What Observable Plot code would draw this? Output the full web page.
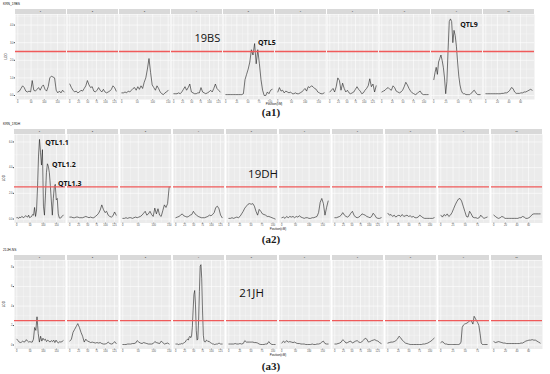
<!DOCTYPE html>
<html><head><meta charset="utf-8">
<script src="https://cdn.jsdelivr.net/npm/d3@7"></script>
<script src="https://cdn.jsdelivr.net/npm/@observablehq/plot@0.6"></script>
<style>
body{margin:0;background:#fff;}
#root{position:relative;width:550px;height:374px;overflow:hidden;background:#fff;}
.panel{position:absolute;left:0;}
.tag{position:absolute;font-family:"Liberation Serif","Times New Roman",serif;font-weight:bold;font-size:11px;color:#1a1a1a;transform:translate(-50%,-50%);white-space:nowrap;line-height:1;}
</style></head><body><div id="root"></div>
<script>
// ---- map ----
const chromosomes = [1,2,3,4,5,6,7,8,9,10];
const chrLength = [175,130,150,130,105,170,135,110,95,80];
const chrTicks = [[0,50,100,150],[0,25,50,75,100,125],[0,50,100,150],[0,25,50,75,100,125],[0,25,50,75,100],[0,50,100,150],[0,25,50,75,100,125],[0,25,50,75,100],[0,25,50,75],[0,20,40,60]];
const threshold = 2.5;

// ---- KRN_19BS : LOD read at evenly spaced positions along each chromosome ----
const BS_chr1 = [0.2,0.25,0.4,0.55,0.45,0.25,0.2,0.25,0.2,0.85,0.3,0.25,0.35,0.45,0.3,0.5,0.6,0.35,0.25,0.5,1.0,1.1,1.05,1.0,0.3,0.15,0.25,0.15,0.3,0.2];
const BS_chr2 = [0.65,0.45,0.3,0.2,0.25,0.15,0.2,0.3,0.25,0.4,0.55,0.85,0.6,0.45,0.5,0.25,0.2,0.3,0.45,0.3,0.2,0.35,0.2,0.15,0.2,0.25,0.35,0.55,0.45,0.25];
const BS_chr3 = [0.15,0.15,0.2,0.15,0.25,0.2,0.3,0.4,0.45,0.3,0.5,0.35,0.55,0.4,0.75,1.0,1.5,2.1,1.3,0.6,0.45,0.3,0.55,0.4,0.2,0.1,0.05,0.15,0.2,0.3];
const BS_chr4 = [0.1,0.1,0.1,0.15,0.1,0.2,0.35,0.5,0.3,0.45,0.65,0.2,0.15,0.1,0.1,0.15,0.15,0.45,0.2,0.15,0.1,0.15,0.2,0.3,0.2,0.4,0.65,0.4,0.3,0.2];
const BS_chr5 = [0.05,0.05,0.05,0.05,0.05,0.05,0.05,0.05,0.05,0.05,0.05,0.1,0.9,1.2,1.5,1.9,2.6,2.3,2.95,1.8,2.6,1.8,0.9,0.3,0.0,0.0,0.2,0.1,0.3,0.35];
const BS_chr6 = [0.2,0.45,0.25,0.3,0.15,0.25,0.2,0.15,0.2,0.1,0.1,0.15,0.1,0.1,0.15,0.2,0.3,0.4,0.25,0.5,0.45,0.55,0.5,0.4,0.35,0.2,0.15,0.1,0.1,0.15];
const BS_chr7 = [0.2,0.3,0.4,0.2,0.5,1.0,0.85,0.3,0.7,0.4,0.2,0.3,0.15,0.1,0.15,0.2,0.35,0.5,0.35,0.25,0.1,0.15,0.3,0.4,0.55,0.95,0.5,0.65,0.2,0.55];
const BS_chr8 = [0.2,0.25,0.3,0.4,0.45,0.35,0.3,0.55,0.45,0.25,0.2,0.15,0.2,0.3,0.5,0.75,0.6,0.4,0.25,0.15,0.1,0.05,0.1,0.2,0.25,0.1,0.05,0.05,0.05,0.05];
const BS_chr9 = [0.9,1.3,1.6,1.2,1.9,2.1,2.3,2.0,1.6,1.0,0.1,0.8,2.6,4.2,4.35,4.2,3.0,3.7,3.4,2.8,1.9,1.1,0.6,0.3,0.15,0.1,0.1,0.05,0.05,0.05,0.05,0.1,0.15,0.25,0.3,0.2,0.1,0.05,0.05,0.05];
const BS_chr10 = [0.1,0.1,0.1,0.1,0.1,0.1,0.1,0.1,0.1,0.1,0.12,0.12,0.15,0.15,0.2,0.3,0.45,0.4,0.2,0.12,0.12,0.12,0.15,0.15,0.2,0.2,0.25,0.3,0.35,0.3];

// ---- KRN_19DH ----
const DH_chr1 = [0.1,0.1,0.05,0.15,0.1,0.2,0.15,0.1,0.2,0.25,0.2,0.15,0.3,0.1,0.15,0.2,0.35,0.3,0.9,0.2,0.7,2.5,4.9,6.2,5.2,4.2,5.4,1.0,0.3,1.8,3.6,4.3,4.1,3.6,2.6,1.4,0.3,1.6,2.5,2.7,1.5,1.6,0.4,0.1,0.05,0.15,0.2,0.3];
const DH_chr2 = [0.15,0.15,0.1,0.1,0.15,0.15,0.1,0.1,0.1,0.15,0.2,0.15,0.1,0.15,0.1,0.1,0.2,0.3,0.45,0.7,1.1,0.75,0.5,0.6,0.3,0.2,0.15,0.25,0.55,0.3];
const DH_chr3 = [0.05,0.05,0.1,0.05,0.1,0.1,0.05,0.1,0.15,0.1,0.15,0.2,0.3,0.45,0.6,0.3,0.4,0.6,0.35,0.2,0.85,0.4,0.8,0.3,0.2,0.65,1.1,0.9,1.2,2.5];
const DH_chr4 = [0.1,0.15,0.2,0.3,0.4,0.25,0.2,0.15,0.2,0.3,0.35,0.6,0.4,0.3,0.2,0.15,0.1,0.1,0.1,0.15,0.2,0.3,0.25,0.35,0.5,0.9,1.0,0.8,0.3,0.1];
const DH_chr5 = [0.05,0.05,0.1,0.05,0.1,0.15,0.1,0.2,0.4,0.6,0.85,1.0,1.15,1.2,1.15,1.2,1.0,0.6,0.3,0.75,0.6,0.4,0.35,0.3,0.2,0.2,0.15,0.1,0.05,0.0];
const DH_chr6 = [0.1,0.15,0.05,0.2,0.1,0.2,0.15,0.2,0.1,0.2,0.15,0.25,0.15,0.1,0.05,0.1,0.1,0.05,0.05,0.1,0.1,0.15,0.2,0.5,1.3,1.6,1.2,0.3,0.9,1.4];
const DH_chr7 = [0.1,0.1,0.15,0.2,0.3,0.5,0.3,0.2,0.15,0.25,0.45,0.6,0.3,0.15,0.1,0.15,0.25,0.4,0.35,0.3,0.2,0.15,0.1,0.2,0.45,0.3,0.1,0.05,0.05,0.1];
const DH_chr8 = [0.45,0.3,0.35,0.2,0.3,0.15,0.25,0.3,0.2,0.35,0.2,0.25,0.3,0.2,0.25,0.15,0.2,0.1,0.1,0.15,0.3,0.2,0.1,0.05,0.05,0.05,0.05,0.05,0.05,0.1];
const DH_chr9 = [0.3,0.15,0.35,0.25,0.4,0.2,0.3,0.5,0.8,1.1,1.35,1.55,1.6,1.4,1.0,0.6,0.2,0.15,0.6,0.4,0.15,0.1,0.1,0.05,0.1,0.3,0.15,0.05,0.1,0.15];
const DH_chr10 = [0.3,0.2,0.1,0.05,0.1,0.2,0.15,0.05,0.05,0.05,0.05,0.05,0.05,0.05,0.05,0.05,0.1,0.1,0.2,0.15,0.05,0.05,0.1,0.2,0.35,0.4,0.4,0.4,0.4,0.4];

// ---- 21JH-NS ----
const JH_chr1 = [0.6,0.45,0.3,0.25,0.3,0.4,0.3,0.35,0.55,0.4,0.3,0.35,0.3,0.3,0.6,1.8,1.5,2.9,1.2,0.3,0.9,0.4,0.7,0.5,0.6,0.35,0.5,0.4,0.3,0.45,0.35,0.5,0.25,0.5,0.3,0.2,0.35,0.3,0.35,0.45];
const JH_chr2 = [0.4,0.6,1.3,1.6,1.9,2.2,1.8,1.3,0.9,0.3,0.6,0.4,0.35,0.25,0.3,0.25,0.2,0.25,0.2,0.25,0.15,0.1,0.1,0.15,0.3,0.15,0.1,0.15,0.35,0.15];
const JH_chr3 = [0.05,0.05,0.05,0.1,0.1,0.1,0.15,0.15,0.2,0.45,0.3,0.2,0.15,0.25,0.2,0.15,0.1,0.1,0.1,0.15,0.35,0.25,0.2,0.15,0.4,0.25,0.1,0.15,0.2,0.1];
const JH_chr4 = [0.1,0.1,0.1,0.05,0.05,0.1,0.1,0.15,0.1,0.15,0.2,0.25,0.3,0.45,0.55,0.6,0.5,0.8,0.9,0.75,0.9,1.8,3.5,5.2,5.6,4.2,1.5,0.5,0.6,2.5,5.5,8.1,8.25,6.8,3.5,1.0,0.4,0.3,0.35,0.5,0.45,0.35,0.4,0.3,0.25,0.2,0.15,0.1,0.1,0.05,0.05,0.1,0.1,0.1,0.15,0.2,0.15,0.1,0.1,0.1];
const JH_chr5 = [0.1,0.1,0.1,0.1,0.15,0.1,0.1,0.15,0.1,0.15,0.45,0.3,0.3,0.3,0.3,0.3,0.25,0.25,0.2,0.1,0.05,0.05,0.05,0.1,0.1,0.35,0.15,0.05,0.05,0.05];
const JH_chr6 = [0.2,0.4,0.25,0.45,0.3,0.35,0.3,0.25,0.3,0.2,0.15,0.15,0.1,0.1,0.1,0.05,0.05,0.05,0.05,0.1,0.05,0.05,0.1,0.1,0.15,0.3,0.4,0.15,0.1,0.1];
const JH_chr7 = [0.1,0.1,0.15,0.2,0.3,0.55,0.4,0.2,0.25,0.35,0.4,0.2,0.3,0.4,0.45,0.3,0.25,0.35,0.5,0.7,0.6,0.3,0.35,0.45,0.5,0.55,0.45,0.4,0.25,0.15];
const JH_chr8 = [0.2,0.25,0.3,0.3,0.35,0.45,0.6,0.9,0.75,0.5,0.35,0.2,0.15,0.1,0.05,0.05,0.05,0.05,0.05,0.05,0.05,0.05,0.1,0.1,0.15,0.2,0.3,0.4,0.55,0.7];
const JH_chr9 = [0.25,0.35,0.3,0.15,0.1,0.1,0.05,0.05,0.05,0.05,0.05,0.05,0.05,0.05,0.05,0.05,0.1,0.3,1.8,2.05,2.15,2.2,2.25,2.35,2.45,2.5,2.4,2.15,2.95,2.75,2.5,2.3,2.0,1.2,0.2,0.05,0.05,0.05,0.05,0.05];
const JH_chr10 = [0.35,0.25,0.3,0.35,0.3,0.25,0.2,0.2,0.15,0.15,0.15,0.15,0.15,0.15,0.15,0.15,0.15,0.2,0.2,0.3,0.4,0.45,0.5,0.5,0.55,0.5,0.5,0.4,0.3,0.2];

// ---- axis ticks ----
const yTicksBS = [0,1,2,3,4];
const yTicksDH = [0,2,4,6];
const yTicksJH = [0,2,4,6,8];

// ---- annotations (chromosome, cM, LOD) ----
const bigLabelsBS = [{chr:4, cM:58, lod:3.24, text:"19BS"}];
const qtlLabelsBS = [{chr:5, cM:73, lod:3.0, text:"QTL5"}, {chr:9, cM:54, lod:4.03, text:"QTL9"}];
const bigLabelsDH = [{chr:5, cM:43.6, lod:3.5, text:"19DH"}];
const qtlLabelsDH = [{chr:1, cM:107, lod:5.91, text:"QTL1.1"}, {chr:1, cM:133, lod:4.24, text:"QTL1.2"}, {chr:1, cM:155, lod:2.76, text:"QTL1.3"}];
const bigLabelsJH = [{chr:5, cM:23.4, lod:5.34, text:"21JH"}];
const qtlLabelsJH = [];

function curveRows(curves){
  const rows = [];
  curves.forEach((vals,k)=>{
    const L = chrLength[k], n = vals.length;
    vals.forEach((v,i)=>{ const cM = i/(n-1)*L; rows.push({chr:chromosomes[k], cM, frac:cM/L, lod:v}); });
  });
  return rows;
}
function tickRows(){
  const rows = [];
  chrTicks.forEach((ts,k)=>ts.forEach(t=>rows.push({chr:chromosomes[k], frac:t/chrLength[k], label:String(t)})));
  return rows;
}
function minorRows(){
  const rows = [];
  chrTicks.forEach((ts,k)=>{
    const L = chrLength[k];
    for(let i=0;i<ts.length-1;i++) rows.push({chr:chromosomes[k], frac:(ts[i]+ts[i+1])/2/L});
    const step = ts[1]-ts[0], extra = ts[ts.length-1]+step/2;
    if(extra <= L*1.05) rows.push({chr:chromosomes[k], frac:extra/L});
  });
  return rows;
}
function yMinor(ticks, domain){
  const out = [], s = ticks[1]-ticks[0];
  for(let v = ticks[0]-s/2; v <= domain[1]; v += s) if(v >= domain[0] && Math.abs(v - threshold) > 1e-9) out.push(v);
  return out;
}
function annoRows(a){ return a.map(d=>({...d, frac:d.cM/chrLength[d.chr-1]})); }

const root = document.getElementById("root");

function panel(cfg){
  const H = cfg.height, mT = cfg.marginTop, mB = cfg.marginBottom, mL = cfg.marginLeft, mR = cfg.marginRight;
  const panelH = H - mT - mB;
  const ticks = tickRows();
  const plot = Plot.plot({
    width: 550, height: H, marginTop: mT, marginBottom: mB, marginLeft: mL, marginRight: mR,
    style: {fontSize: "2.6px", fontFamily: "'Liberation Sans', Arial, sans-serif", color: "#4D4D4D", background: "transparent", overflow: "visible"},
    x: {domain: [-0.05, 1.05], axis: null},
    y: {domain: cfg.yDomain, ticks: cfg.yTicks, tickSize: 1.2, tickPadding: 0.8, label: null},
    fx: {domain: chromosomes, paddingInner: cfg.pad, paddingOuter: 0, padding: cfg.pad, axis: null},
    marks: [
      Plot.frame({fill: "#EBEBEB", stroke: null}),
      Plot.ruleY(yMinor(cfg.yTicks, cfg.yDomain), {stroke: "white", strokeWidth: 0.3}),
      Plot.ruleY(cfg.yTicks, {stroke: "white", strokeWidth: 0.6}),
      Plot.ruleX(minorRows(), {fx: "chr", x: "frac", stroke: "white", strokeWidth: 0.3}),
      Plot.ruleX(ticks, {fx: "chr", x: "frac", stroke: "white", strokeWidth: 0.6}),
      Plot.ruleX(ticks, {fx: "chr", x: "frac", stroke: "#333", strokeWidth: 0.4, insetTop: panelH, insetBottom: -1.1}),
      Plot.text(ticks, {fx: "chr", x: "frac", text: "label", frameAnchor: "bottom", lineAnchor: "top", dy: 1.3, fill: "#4D4D4D"}),
      Plot.line(curveRows(cfg.curves), {fx: "chr", x: "frac", y: "lod", stroke: "#1c1c1c", strokeWidth: 0.6}),
      Plot.ruleY([threshold], {stroke: "#F05A5A", strokeWidth: 1.3}),
      Plot.text(annoRows(cfg.big), {fx: "chr", x: "frac", y: "lod", text: "text", textAnchor: "start", fontSize: cfg.bigSize, fontFamily: "'Open Sans', 'Liberation Sans', sans-serif", fill: "#111"}),
      Plot.text(annoRows(cfg.qtl), {fx: "chr", x: "frac", y: "lod", text: "text", textAnchor: "start", fontSize: 7, fontWeight: "bold", fontFamily: "'Open Sans', 'Liberation Sans', sans-serif", fill: "#111"})
    ]
  });
  const wrap = document.createElement("div");
  wrap.className = "panel";
  wrap.style.top = cfg.top + "px";
  wrap.appendChild(plot);
  root.appendChild(wrap);

  // facet strips from the library's fx scale
  const s = plot.scale("fx");
  const n = chromosomes.length;
  let step = (550 - mL - mR) / (n - cfg.pad), bw = step * (1 - cfg.pad);
  let pos = c => mL + chromosomes.indexOf(c) * step;
  if (s && typeof s.apply === "function") { pos = c => s.apply(c); if (s.bandwidth) bw = s.bandwidth; }
  const svg = d3.select(plot.tagName.toLowerCase() === "svg" ? plot : plot.querySelector("svg"));
  const g = svg.append("g").attr("text-anchor", "middle");
  chromosomes.forEach(c=>{
    const x = pos(c);
    g.append("rect").attr("x", x).attr("y", mT - 5).attr("width", bw).attr("height", 5).attr("fill", "#D9D9D9");
    g.append("text").attr("x", x + bw/2).attr("y", mT - 2.5).attr("text-anchor","middle").attr("dominant-baseline","central")
      .attr("font-size", 2.4).attr("fill", "#1A1A1A").text(String(c));
  });
  svg.append("text").attr("x", 3).attr("y", 4).attr("text-anchor", "start").attr("dominant-baseline","central")
    .attr("font-size", 3.3).attr("fill","#111").text(cfg.title);
  svg.append("text").attr("transform", `translate(${cfg.lodX},${mT + panelH/2}) rotate(-90)`).attr("text-anchor","middle")
    .attr("dominant-baseline","central").attr("font-size", 3).attr("fill","#111").text("LOD");
  svg.append("text").attr("x", (mL + 550 - mR)/2).attr("y", H - mB + cfg.posDy).attr("text-anchor","middle")
    .attr("dominant-baseline","central").attr("font-size", 3).attr("fill","#111").text("Position(cM)");

  const tag = document.createElement("div");
  tag.className = "tag"; tag.style.left = "271px"; tag.style.top = cfg.tagY + "px"; tag.textContent = cfg.tag;
  root.appendChild(tag);
}

panel({top: 0, height: 110, marginTop: 14, marginBottom: 11, marginLeft: 12.3, marginRight: 14.2, pad: 0.0286,
  yDomain: [-0.227, 4.6], yTicks: yTicksBS, curves: [BS_chr1,BS_chr2,BS_chr3,BS_chr4,BS_chr5,BS_chr6,BS_chr7,BS_chr8,BS_chr9,BS_chr10],
  big: bigLabelsBS, qtl: qtlLabelsBS, bigSize: 11, title: "KRN_19BS", lodX: 5.8, posDy: 5.2, tag: "(a1)", tagY: 112});
panel({top: 119.5, height: 112, marginTop: 14, marginBottom: 9.5, marginLeft: 10, marginRight: 4, pad: 0.041,
  yDomain: [-0.31, 6.58], yTicks: yTicksDH, curves: [DH_chr1,DH_chr2,DH_chr3,DH_chr4,DH_chr5,DH_chr6,DH_chr7,DH_chr8,DH_chr9,DH_chr10],
  big: bigLabelsDH, qtl: qtlLabelsDH, bigSize: 11.5, title: "KRN_19DH", lodX: 4, posDy: 6, tag: "(a2)", tagY: 239});
panel({top: 245.5, height: 112, marginTop: 14, marginBottom: 9.5, marginLeft: 10, marginRight: 4, pad: 0.041,
  yDomain: [-0.41, 8.68], yTicks: yTicksJH, curves: [JH_chr1,JH_chr2,JH_chr3,JH_chr4,JH_chr5,JH_chr6,JH_chr7,JH_chr8,JH_chr9,JH_chr10],
  big: bigLabelsJH, qtl: qtlLabelsJH, bigSize: 11.5, title: "21JH-NS", lodX: 4, posDy: 6, tag: "(a3)", tagY: 366});
</script></body></html>
